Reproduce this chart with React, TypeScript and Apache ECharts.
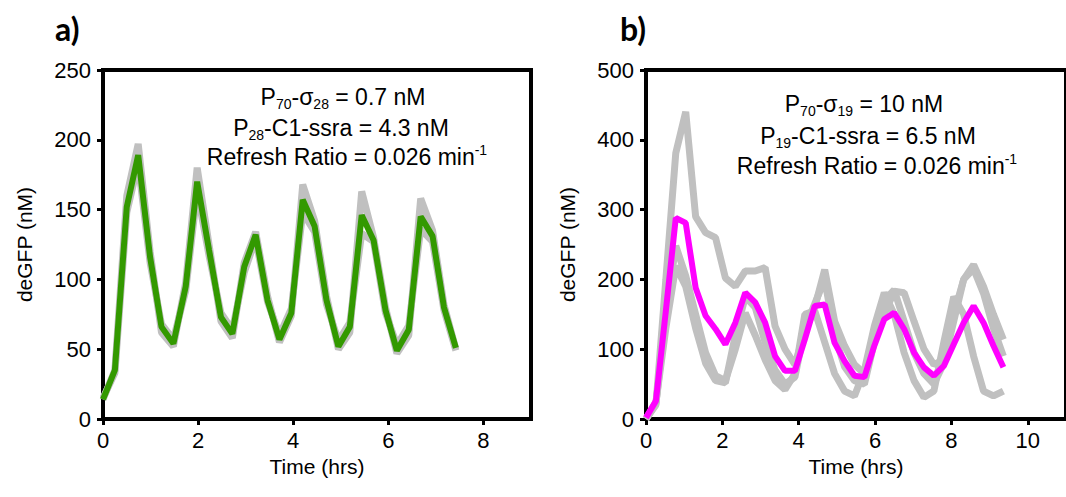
import React, { useEffect, useRef } from "react";
import * as echarts from "echarts";

// ---------- Data ----------
const timesA = [0, 0.25, 0.5, 0.74, 0.99, 1.23, 1.48, 1.74, 1.98, 2.23, 2.48, 2.72, 2.97, 3.21, 3.46, 3.71, 3.96, 4.2, 4.45, 4.7, 4.95, 5.19, 5.44, 5.69, 5.94, 6.18, 6.43, 6.68, 6.93, 7.17, 7.42];
const greenA = [14, 35, 152, 189, 116, 66, 54, 95, 170, 121, 73, 61, 109, 132, 85, 57, 76, 157, 138, 85, 52, 66, 146, 128, 78, 49, 64, 145, 131, 80, 51];
const grayA1 = [14, 35, 160, 197, 120, 62, 52, 98, 180, 125, 70, 58, 112, 134, 88, 55, 74, 168, 142, 88, 50, 62, 163, 130, 80, 47, 60, 158, 135, 82, 50];
const grayA2 = [15, 33, 148, 183, 112, 68, 57, 92, 163, 117, 76, 64, 105, 129, 84, 60, 79, 148, 134, 82, 56, 69, 133, 127, 76, 53, 67, 136, 127, 78, 49];

const timesB = [0, 0.26, 0.52, 0.78, 1.04, 1.3, 1.56, 1.82, 2.08, 2.34, 2.6, 2.86, 3.12, 3.38, 3.64, 3.9, 4.16, 4.42, 4.68, 4.94, 5.2, 5.46, 5.72, 5.98, 6.24, 6.5, 6.76, 7.02, 7.28, 7.54, 7.8, 8.06, 8.32, 8.58, 8.84, 9.1, 9.36];
const magentaB = [2, 26, 155, 288, 281, 188, 148, 129, 107, 138, 181, 167, 138, 90, 69, 69, 114, 162, 164, 109, 83, 62, 60, 105, 143, 152, 129, 95, 74, 62, 76, 107, 138, 162, 138, 105, 74];
const grayB1 = [0, 20, 200, 381, 440, 290, 267, 260, 202, 190, 212, 212, 217, 133, 100, 78, 125, 160, 214, 140, 105, 78, 65, 120, 150, 183, 181, 140, 100, 78, 85, 150, 200, 221, 190, 150, 114];
const grayB2 = [0, 22, 150, 248, 205, 150, 95, 62, 55, 100, 152, 120, 85, 55, 42, 65, 150, 155, 110, 65, 40, 33, 70, 133, 181, 150, 95, 55, 31, 40, 110, 175, 150, 90, 40, 33, 40];
const grayB3 = [0, 24, 130, 219, 190, 130, 80, 55, 52, 120, 175, 160, 110, 70, 50, 60, 130, 165, 200, 120, 75, 55, 50, 110, 170, 185, 140, 95, 65, 50, 80, 140, 200, 215, 180, 130, 90];

const xTicksA = [0, 2, 4, 6, 8];
const xTicksB = [0, 2, 4, 6, 8, 10];

const FONT = "Liberation Sans, Arial, sans-serif";

function pairs(t: number[], v: number[]) {
  return t.map((x, i) => [x, v[i]]);
}

export default function App() {
  const ref = useRef<HTMLDivElement>(null);
  useEffect(() => {
    if (!ref.current) return;
    const chart = echarts.init(ref.current, undefined, { renderer: "svg" });

    const axisCommon = {
      axisLine: { show: true, lineStyle: { color: "#000", width: 4 } },
      axisTick: { show: true, length: 6, lineStyle: { color: "#000", width: 3 } },
      splitLine: { show: false },
      axisLabel: { color: "#000", fontSize: 22, fontFamily: FONT, margin: 12 },
      nameTextStyle: { color: "#000", fontSize: 21, fontFamily: FONT },
    };

    const xAxis = (gi: number, max: number, ticks: number[]) => ({
      ...axisCommon,
      type: "value",
      gridIndex: gi,
      min: 0,
      max,
      name: "Time (hrs)",
      nameLocation: "middle",
      nameGap: 37,
      axisTick: { ...axisCommon.axisTick, customValues: ticks },
      axisLabel: { ...axisCommon.axisLabel, margin: 10, customValues: ticks },
    });
    const yAxis = (gi: number, max: number, interval: number) => ({
      ...axisCommon,
      type: "value",
      gridIndex: gi,
      min: 0,
      max,
      interval,
      name: "deGFP (nM)",
      nameLocation: "middle",
      nameGap: 68,
    });

    const grayLine = (xi: number, t: number[], v: number[]) => ({
      type: "line",
      xAxisIndex: xi,
      yAxisIndex: xi,
      data: pairs(t, v),
      showSymbol: false,
      symbol: "none",
      lineStyle: { color: "#c0c0c0", width: 7 },
      z: 2,
    });

    const textLine = (x: number, y: number, text: string) => ({
      type: "text",
      x,
      y,
      z: 10,
      style: {
        text,
        align: "center",
        verticalAlign: "middle",
        fill: "#000",
        rich: {
          m: { fontSize: 23, fontFamily: FONT, color: "#000" },
          s: { fontSize: 14, fontFamily: FONT, color: "#000", padding: [14, 0, 0, 0] },
          p: { fontSize: 14, fontFamily: FONT, color: "#000", padding: [0, 0, 14, 0] },
        },
      },
    });

    chart.setOption({
      animation: false,
      backgroundColor: "#fff",
      grid: [
        { left: 103, top: 70, right: 535, bottom: 78, show: true, borderColor: "#000", borderWidth: 4, backgroundColor: "transparent" },
        { left: 646, top: 70, right: -11, bottom: 78, show: true, borderColor: "#000", borderWidth: 4, backgroundColor: "transparent" },
      ],
      xAxis: [xAxis(0, 9, xTicksA), xAxis(1, 11, xTicksB)],
      yAxis: [yAxis(0, 250, 50), yAxis(1, 500, 100)],
      series: [
        grayLine(0, timesA, grayA1),
        grayLine(0, timesA, grayA2),
        {
          type: "line",
          xAxisIndex: 0,
          yAxisIndex: 0,
          data: pairs(timesA, greenA),
          showSymbol: false,
          symbol: "none",
          lineStyle: { color: "#339900", width: 6 },
          z: 3,
        },
        grayLine(1, timesB, grayB1),
        grayLine(1, timesB, grayB2),
        grayLine(1, timesB, grayB3),
        {
          type: "line",
          xAxisIndex: 1,
          yAxisIndex: 1,
          data: pairs(timesB, magentaB),
          showSymbol: false,
          symbol: "none",
          lineStyle: { color: "#ff00ff", width: 6 },
          z: 3,
        },
      ],
      graphic: [
        { type: "text", x: 55, y: 28, style: { text: "a)", fontSize: 32, fontWeight: "bold", fontFamily: "Lato, Open Sans, sans-serif", fill: "#000", verticalAlign: "middle" } },
        { type: "text", x: 620, y: 28, style: { text: "b)", fontSize: 32, fontWeight: "bold", fontFamily: "Lato, Open Sans, sans-serif", fill: "#000", verticalAlign: "middle" } },
        textLine(343, 97, "{m|P}{s|70}{m|-σ}{s|28}{m| = 0.7 nM}"),
        textLine(341, 128, "{m|P}{s|28}{m|-C1-ssra = 4.3 nM}"),
        textLine(347, 157, "{m|Refresh Ratio = 0.026 min}{p|-1}"),
        textLine(864, 104, "{m|P}{s|70}{m|-σ}{s|19}{m| = 10 nM}"),
        textLine(868, 136, "{m|P}{s|19}{m|-C1-ssra = 6.5 nM}"),
        textLine(877, 166, "{m|Refresh Ratio = 0.026 min}{p|-1}"),
      ],
    });
    return () => chart.dispose();
  }, []);
  return <div ref={ref} style={{ position: "fixed", left: 0, top: 0, width: 1066, height: 497 }} />;
}
